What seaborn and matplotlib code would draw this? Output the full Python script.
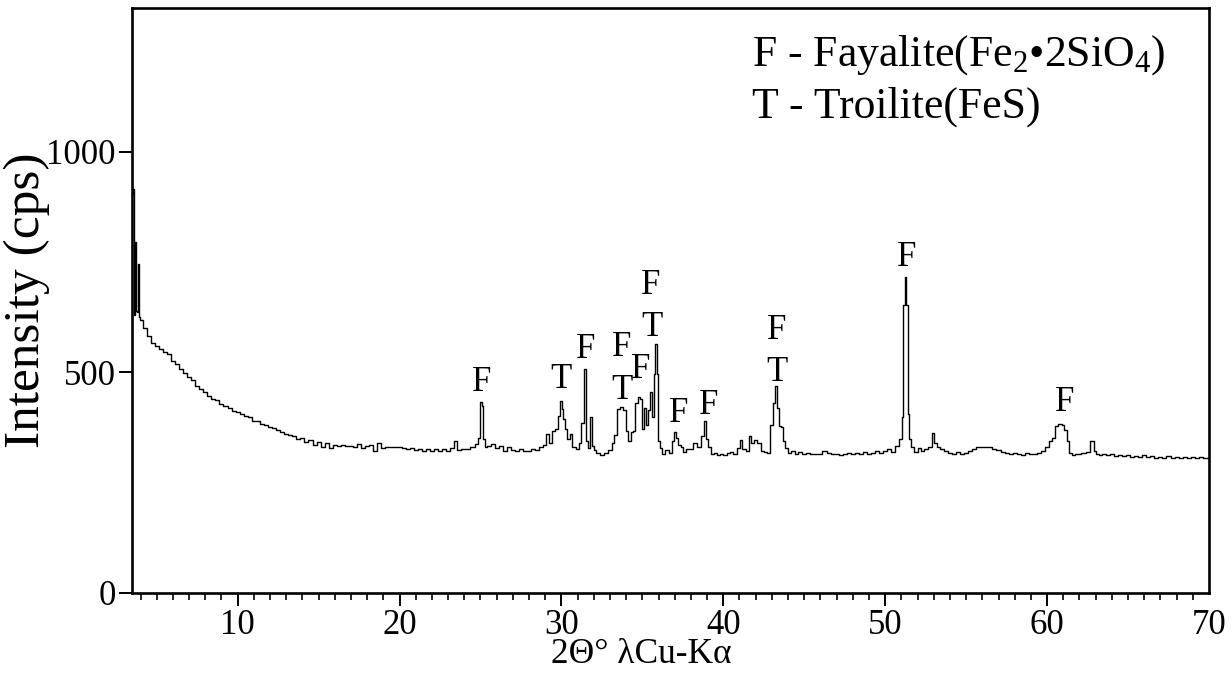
import matplotlib
matplotlib.use("Agg")
import matplotlib.pyplot as plt
from matplotlib.ticker import MultipleLocator
import seaborn as sns
import pandas as pd

# ---- XRD pattern (2-theta in degrees, intensity in counts per second) ----
two_theta = [
    3.50, 3.55, 3.60, 3.65, 3.70, 3.75, 3.80, 3.85, 3.90, 3.95, 4.00,
    4.25, 4.50, 4.75, 5.00, 5.25, 5.50, 5.75, 6.00, 6.25, 6.50, 6.75,
    7.00, 7.25, 7.50, 7.75, 8.00, 8.25, 8.50, 8.75, 9.00, 9.25, 9.50,
    9.75, 10.00, 10.25, 10.50, 10.75, 11.00, 11.25, 11.50, 11.75, 12.00,
    12.25, 12.50, 12.75, 13.00, 13.25, 13.50, 13.75, 14.00, 14.25, 14.50,
    14.75, 15.00, 15.25, 15.50, 15.75, 16.00, 16.25, 16.50, 16.75, 17.00,
    17.25, 17.50, 17.75, 18.00, 18.25, 18.50, 18.75, 19.00, 19.25, 19.50,
    19.75, 20.00, 20.25, 20.50, 20.75, 21.00, 21.25, 21.50, 21.75, 22.00,
    22.25, 22.50, 22.75, 23.00, 23.25, 23.50, 23.65, 24.00, 24.25, 24.50,
    24.80, 24.92, 25.02, 25.12, 25.22, 25.35, 25.50, 25.75, 26.00, 26.25,
    26.50, 26.75, 27.00, 27.25, 27.50, 27.75, 28.00, 28.25, 28.50, 28.75,
    29.00, 29.15, 29.30, 29.50, 29.70, 29.85, 29.97, 30.07, 30.17, 30.30,
    30.45, 30.60, 30.75, 31.00, 31.15, 31.30, 31.45, 31.58, 31.70, 31.82,
    31.92, 32.05, 32.25, 32.50, 32.75, 33.00, 33.20, 33.35, 33.50, 33.70,
    33.90, 34.05, 34.20, 34.35, 34.50, 34.65, 34.78, 34.92, 35.05, 35.20,
    35.30, 35.40, 35.52, 35.64, 35.74, 35.83, 35.92, 36.02, 36.15, 36.30,
    36.50, 36.75, 36.90, 37.05, 37.15, 37.30, 37.45, 37.60, 37.80, 38.00,
    38.25, 38.50, 38.75, 38.90, 39.00, 39.12, 39.30, 39.50, 39.70, 39.90,
    40.10, 40.30, 40.50, 40.75, 41.00, 41.10, 41.25, 41.50, 41.65, 41.80,
    42.00, 42.20, 42.40, 42.60, 42.80, 42.98, 43.10, 43.23, 43.35, 43.48,
    43.60, 43.75, 43.90, 44.10, 44.30, 44.50, 44.75, 45.00, 45.25, 45.50,
    45.75, 46.00, 46.25, 46.50, 46.75, 47.00, 47.25, 47.50, 47.75, 48.00,
    48.25, 48.50, 48.75, 49.00, 49.25, 49.50, 49.75, 50.00, 50.25, 50.50,
    50.75, 50.95, 51.07, 51.17, 51.25, 51.33, 51.43, 51.55, 51.70, 51.90,
    52.10, 52.30, 52.50, 52.75, 52.98, 53.10, 53.30, 53.50, 53.75, 54.00,
    54.25, 54.50, 54.75, 55.00, 55.25, 55.50, 55.75, 56.00, 56.25, 56.50,
    56.75, 57.00, 57.25, 57.50, 57.75, 58.00, 58.25, 58.50, 58.75, 59.00,
    59.25, 59.50, 59.75, 60.00, 60.20, 60.40, 60.60, 60.80, 61.00, 61.15,
    61.30, 61.45, 61.60, 61.80, 62.00, 62.25, 62.50, 62.80, 62.95, 63.10,
    63.30, 63.50, 63.75, 64.00, 64.25, 64.50, 64.75, 65.00, 65.25, 65.50,
    65.75, 66.00, 66.25, 66.50, 66.75, 67.00, 67.25, 67.50, 67.75, 68.00,
    68.25, 68.50, 68.75, 69.00, 69.25, 69.50, 69.75, 70.00,
]
intensity = [
    905, 915, 790, 630, 795, 640, 636, 745, 632, 625, 618,
    600, 583, 566, 560, 553, 546, 541, 526, 519, 508, 498,
    489, 483, 469, 463, 456, 447, 440, 437, 428, 424, 419,
    413, 410, 406, 402, 398, 391, 389, 384, 381, 376,
    373, 369, 366, 361, 358, 355, 350, 352, 343, 347,
    336, 342, 331, 339, 329, 336, 333, 335, 333, 334,
    332, 338, 328, 333, 336, 323, 340, 329, 331, 330,
    331, 330, 329, 327, 329, 324, 326, 321, 327, 322,
    326, 321, 326, 323, 329, 345, 325, 326, 327, 330,
    337, 352, 432, 425, 350, 331, 334, 338, 329, 333,
    323, 330, 325, 321, 327, 323, 321, 326, 324, 331,
    336, 360, 341, 368, 372, 402, 436, 417, 394, 372,
    349, 360, 331, 327, 340, 385, 508, 344, 329, 400,
    334, 324, 317, 313, 318, 325, 340, 358, 418, 421,
    415, 367, 344, 366, 367, 430, 445, 440, 372, 420,
    381, 415, 456, 400, 497, 564, 497, 344, 329, 314,
    325, 318, 345, 366, 351, 336, 330, 320, 326, 326,
    340, 331, 355, 391, 350, 330, 315, 318, 312, 316,
    313, 318, 320, 316, 328, 346, 326, 322, 356, 340,
    346, 340, 322, 319, 318, 380, 430, 470, 420, 378,
    376, 344, 328, 318, 322, 316, 320, 314, 318, 316,
    314, 316, 322, 318, 314, 316, 312, 316, 318, 314,
    318, 316, 320, 315, 318, 322, 318, 322, 326, 320,
    334, 350, 400, 654, 717, 654, 405, 350, 330, 320,
    328, 322, 326, 330, 362, 340, 332, 326, 322, 318,
    316, 320, 316, 318, 322, 326, 330, 332, 331, 330,
    326, 324, 320, 318, 314, 318, 316, 312, 318, 314,
    316, 318, 322, 330, 344, 352, 378, 384, 380, 370,
    344, 318, 312, 316, 314, 318, 320, 344, 322, 316,
    312, 314, 312, 314, 310, 312, 310, 313, 308, 311,
    309, 312, 308, 310, 306, 309, 307, 310, 306, 308,
    306, 309, 305, 308, 306, 309, 305, 307,
]

# ---- phase markers above the reflections ----
marker_theta = [25.10, 29.98, 31.52, 33.74, 33.74, 34.91, 35.52, 35.59,
                37.25, 39.10, 43.29, 43.29, 51.31, 61.11]
marker_level = [478, 483, 551, 556, 460, 506, 698, 601,
                408, 426, 596, 499, 760, 431]
marker_phase = ["F", "T", "F", "F", "T", "F", "F", "T",
                "F", "F", "F", "T", "F", "F"]

x_ticks = [10, 20, 30, 40, 50, 60, 70]
y_ticks = [0, 500, 1000]

sns.set_theme(style="ticks")
plt.rcParams["font.family"] = ["Liberation Serif", "DejaVu Serif"]
plt.rcParams["mathtext.fontset"] = "custom"
plt.rcParams["mathtext.rm"] = "Liberation Serif"
plt.rcParams["mathtext.it"] = "Liberation Serif:italic"

fig = plt.figure(figsize=(12.32, 6.75), dpi=100)
ax = fig.add_axes([0.1071, 0.1215, 0.8742, 0.8665])

pattern = pd.DataFrame({"two_theta": two_theta, "intensity": intensity})
sns.lineplot(data=pattern, x="two_theta", y="intensity", ax=ax,
             estimator=None, sort=False, drawstyle="steps-mid",
             color="black", linewidth=1.0)

for xt, yl, ph in zip(marker_theta, marker_level, marker_phase):
    ax.text(xt, yl, ph, ha="center", va="center", fontsize=25, color="black")

ax.set_xlim(3.47, 70)
ax.set_ylim(0, 1326)
ax.set_xticks(x_ticks)
ax.set_xticklabels([str(t) for t in x_ticks])
ax.set_yticks(y_ticks)
ax.set_yticklabels([str(t) for t in y_ticks])
ax.xaxis.set_minor_locator(MultipleLocator(1))

ax.tick_params(axis="x", which="major", direction="out", length=9.5,
               width=1.4, labelsize=25, pad=2, colors="black")
ax.tick_params(axis="x", which="minor", direction="out", length=5,
               width=1.2, colors="black")
ax.tick_params(axis="y", which="major", direction="out", length=9.5,
               width=1.4, labelsize=25, pad=2, colors="black")
ax.tick_params(axis="y", which="minor", left=False)
ax.xaxis.get_major_ticks()[-1].tick1line.set_visible(False)

for side in ["left", "right", "top", "bottom"]:
    ax.spines[side].set_visible(True)
    ax.spines[side].set_color("black")
    ax.spines[side].set_linewidth(1.9)

ax.set_ylabel("Intensity (cps)", fontsize=37, color="black")
ax.yaxis.label.set_va("center")
ax.yaxis.set_label_coords(-0.098, 0.5)
ax.set_xlabel("2Θ° λCu-Kα", fontsize=25.5, color="black")
ax.xaxis.label.set_va("center")
ax.xaxis.set_label_coords(0.473, -0.106)

ax.text(0.5757, 0.9026, r"F - Fayalite(Fe$_{2}$•2SiO$_{4}$)",
        transform=ax.transAxes, ha="left", va="baseline", fontsize=31.5,
        color="black")
ax.text(0.5757, 0.8137, "T - Troilite(FeS)",
        transform=ax.transAxes, ha="left", va="baseline", fontsize=31.5,
        color="black")

fig.savefig("out.png", dpi=100, facecolor="white")
